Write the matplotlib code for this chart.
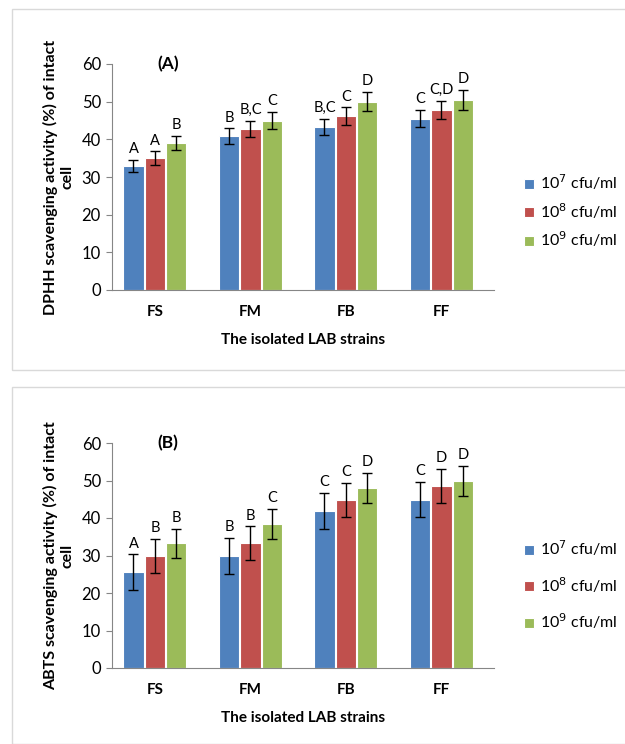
import matplotlib.pyplot as plt
import matplotlib.patches as mpatches
import numpy as np

plt.rcParams['font.family'] = ['Lato', 'DejaVu Sans']

strains = ['FS', 'FM', 'FB', 'FF']
doses = ['10$^7$ cfu/ml', '10$^8$ cfu/ml', '10$^9$ cfu/ml']
colors = ['#4F81BD', '#C0504D', '#9BBB59']

# panel A - DPPH
dpph_7 = [32.9, 40.8, 43.3, 45.5]
dpph_8 = [35.0, 42.7, 46.2, 47.8]
dpph_9 = [39.0, 45.0, 50.0, 50.5]
dpph_err_7 = [1.7, 2.1, 2.2, 2.3]
dpph_err_8 = [1.8, 2.2, 2.3, 2.5]
dpph_err_9 = [1.9, 2.2, 2.5, 2.6]
dpph_let_7 = ['A', 'B', 'B,C', 'C']
dpph_let_8 = ['A', 'B,C', 'C', 'C,D']
dpph_let_9 = ['B', 'C', 'D', 'D']

# panel B - ABTS
abts_7 = [25.6, 29.9, 41.9, 44.9]
abts_8 = [29.9, 33.3, 44.9, 48.6]
abts_9 = [33.3, 38.4, 48.0, 49.9]
abts_err_7 = [4.7, 4.75, 4.75, 4.7]
abts_err_8 = [4.5, 4.5, 4.5, 4.5]
abts_err_9 = [3.9, 4.0, 4.0, 4.0]
abts_let_7 = ['A', 'B', 'C', 'C']
abts_let_8 = ['B', 'B', 'C', 'D']
abts_let_9 = ['B', 'C', 'D', 'D']

fig = plt.figure(figsize=(6.25, 7.44), dpi=100)

# panel frames
fig.patches.append(mpatches.Rectangle((12/625, 1-370/744), 0.99, 361/744,
                   transform=fig.transFigure, fill=False, ec='#d9d9d9', lw=1))
fig.patches.append(mpatches.Rectangle((12/625, 1-744/744), 0.99, 357/744,
                   transform=fig.transFigure, fill=False, ec='#d9d9d9', lw=1))


def panel(rect, vals, errs, lets, ylabel, tag, leg_y, leg_sp):
    ax = fig.add_axes(rect)
    x = np.arange(len(strains))
    w = 0.21
    step = 0.225
    for i in range(3):
        xs = x + (i - 1) * step
        ax.bar(xs, vals[i], w, color=colors[i], edgecolor='white', lw=0.8,
               label=doses[i], zorder=2)
        ax.errorbar(xs, vals[i], yerr=errs[i], fmt='none', ecolor='black',
                    elinewidth=1, capsize=3.5, capthick=1, zorder=3)
        for xx, v, e, l in zip(xs, vals[i], errs[i], lets[i]):
            ax.text(xx, v + e + 1.0, l, ha='center', va='bottom', fontsize=10.5)
    ax.set_ylim(0, 60)
    ax.set_yticks(range(0, 61, 10))
    ax.set_xlim(-0.45, 3.55)
    ax.set_xticks(x)
    ax.set_xticklabels(strains, fontweight='bold', fontsize=11)
    ax.tick_params(axis='x', length=0, pad=11)
    ax.tick_params(axis='y', labelsize=12, length=4, color='#868686', pad=4)
    for s in ['top', 'right']:
        ax.spines[s].set_visible(False)
    for s in ['left', 'bottom']:
        ax.spines[s].set_color('#868686')
    ax.set_xlabel('The isolated LAB strains', fontweight='bold', fontsize=11,
                  labelpad=10)
    ax.set_ylabel(ylabel, fontweight='bold', fontsize=11.5, labelpad=5)
    ax.text(0.12, 1.0, tag, transform=ax.transAxes, fontweight='bold',
            fontsize=12.5, ha='left', va='center')
    ax.legend(loc='center left', bbox_to_anchor=(510/625, leg_y),
              bbox_transform=fig.transFigure, frameon=False, fontsize=11.5,
              handlelength=0.6, handleheight=0.6, labelspacing=leg_sp,
              handletextpad=0.4)
    return ax


panel([112/625, 1-290/744, 382/625, 226/744],
      [dpph_7, dpph_8, dpph_9], [dpph_err_7, dpph_err_8, dpph_err_9],
      [dpph_let_7, dpph_let_8, dpph_let_9],
      'DPHH scavenging activity (%) of intact\ncell', '(A)', 1-211/744, 0.55)
panel([112/625, 1-668/744, 382/625, 225/744],
      [abts_7, abts_8, abts_9], [abts_err_7, abts_err_8, abts_err_9],
      [abts_let_7, abts_let_8, abts_let_9],
      'ABTS scavenging activity (%) of intact\ncell', '(B)', 1-585/744, 1.05)

fig.savefig('out.png', dpi=100)
